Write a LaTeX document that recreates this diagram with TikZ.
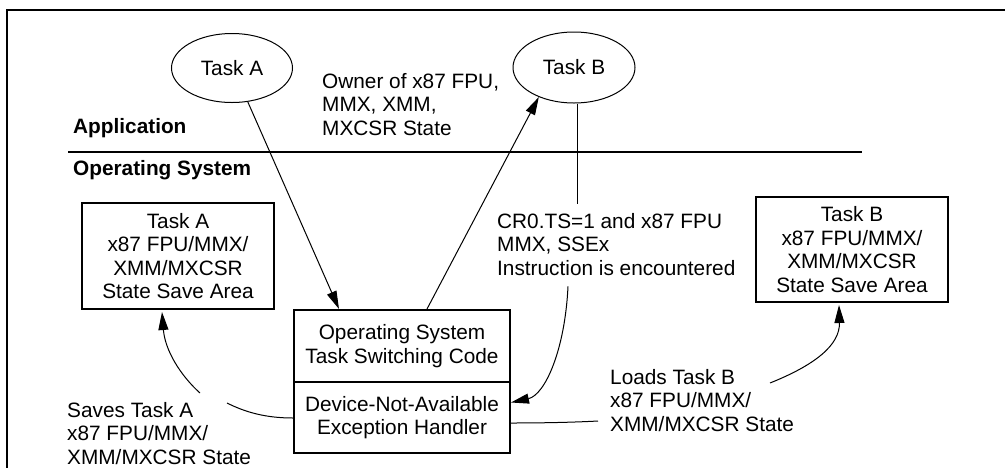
\documentclass[tikz,border=0pt]{standalone}
\usepackage{fontspec}
\setmainfont{Liberation Sans}
\usetikzlibrary{arrows.meta,shapes.geometric,calc}
\begin{document}
\begin{tikzpicture}[x=1pt,y=-1pt,
  every node/.style={font=\fontsize{20.8}{23.5}\selectfont},
  txt/.style={inner sep=0pt, align=left, anchor=west},
  hdr/.style={inner sep=0pt, anchor=west, font=\fontsize{20.8}{23.5}\selectfont\bfseries},
  task/.style={draw, line width=1pt, ellipse, inner sep=0pt},
  areabox/.style={draw, line width=2pt, rectangle, inner sep=0pt, align=center, minimum width=192pt, minimum height=106pt},
  osbox/.style={draw, line width=2pt, rectangle, inner sep=0pt, align=center, minimum width=216pt},
  conn/.style={line width=1pt},
  arr/.style={line width=1pt, -{Triangle[length=18pt,width=10pt]}},
  frame/.style={line width=2.5pt},
  sep/.style={line width=2pt}
]
\useasboundingbox (0,0) rectangle (1005,467);
\fill[white] (0,0) rectangle (1005,467);
% frame
\draw[frame] (7,470) -- (7,10) -- (1010,10);

% application level
\node[task, minimum width=121pt, minimum height=69pt] (taskA) at (232,68) {Task A};
\node[task, minimum width=122pt, minimum height=71pt] (taskB) at (574,67.5) {Task B};
\node[hdr] (app) at (73,128) {Application};
\node[txt] (owner) at (322,104.5) {Owner of x87 FPU,\\MMX, XMM,\\MXCSR State};

% separator
\draw[sep] (68,152) -- (862,152);
\node[hdr] (os) at (73,170) {Operating System};

% OS level boxes
\node[areabox] (saveA) at (178,256) {Task A\\x87 FPU/MMX/\\XMM/MXCSR\\State Save Area};
\node[areabox, minimum height=105pt] (saveB) at (852,249.5) {Task B\\x87 FPU/MMX/\\XMM/MXCSR\\State Save Area};
\node[osbox, minimum height=72pt] (ostop) at (402,346) {Operating System\\Task Switching Code};
\node[osbox, minimum height=71pt] (osbot) at (402,417.5) {Device-Not-Available\\Exception Handler};

% labels
\node[txt] (cr0) at (497,244.5) {CR0.TS=1 and x87 FPU\\MMX, SSEx\\Instruction is encountered};
\node[txt] (loads) at (610,400.5) {Loads Task B\\x87 FPU/MMX/\\XMM/MXCSR State};
\node[txt] (saves) at (67,433.5) {Saves Task A\\x87 FPU/MMX/\\XMM/MXCSR State};

% connectors
\draw[arr] (taskA.-65) -- ($(ostop.north west)+(46,0)$);
\draw[arr] ($(ostop.north west)+(134,0)$) -- (taskB.-140);
\draw[conn] ($(taskB.south)+(3,0)$) -- ($(cr0.north west)+(80,-9)$);
\draw[arr] ($(cr0.south west)+(71,10.5)$) .. controls (565,350) and (545,395) .. ($(osbot.east)+(0,-15)$);
\draw[conn] ($(osbot.east)+(0,5.5)$) .. controls (550,423) and (580,422) .. ($(loads.west)+(-12,20.5)$);
\draw[arr] ($(loads.west)+(160,-17.5)$) .. controls (815,365) and (840,345) .. ($(saveB.south west)+(84,2)$);
\draw[conn] ($(osbot.west)+(0,0.5)$) .. controls (265,418) and (245,412) .. ($(saves.west)+(160,-30.5)$);
\draw[arr] ($(saves.west)+(133,-40.5)$) .. controls (180,375) and (165,350) .. ($(saveA.south west)+(81,2)$);
\end{tikzpicture}
\end{document}
